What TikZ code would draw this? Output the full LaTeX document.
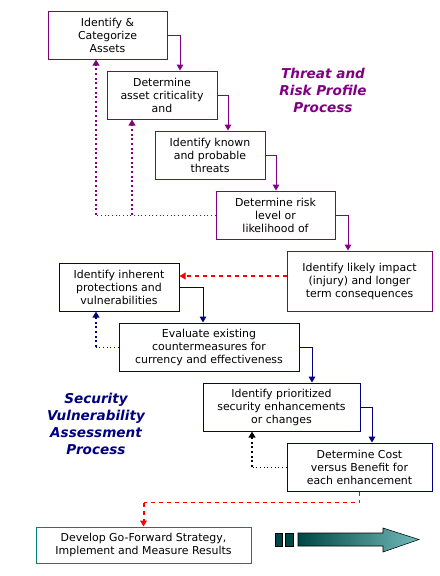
\documentclass[tikz,border=0pt]{standalone}
\usepackage{fontspec}
\setmainfont{DejaVu Sans}
\usetikzlibrary{arrows.meta,calc}

\begin{document}
\begin{tikzpicture}[
  x=0.75pt,
  y=-0.75pt,
  >={Triangle[width=5pt,length=4.5pt]},
  procbox/.style={draw=#1, line width=0.75pt, fill=white, align=center,
    inner sep=0pt, font=\fontsize{8.2}{9.75}\selectfont},
  link/.style={draw=#1, line width=0.75pt, ->},
  back/.style={draw=#1, line width=1.5pt, dotted, ->},
  title/.style={align=center, text=#1, font=\fontsize{10.2}{12.75}\selectfont\bfseries\itshape}
]
\definecolor{tpurple}{RGB}{128,0,128}
\definecolor{tnavy}{RGB}{0,0,128}
\definecolor{tred}{RGB}{255,0,0}
\definecolor{tteal}{RGB}{0,128,128}
\definecolor{tdark}{RGB}{0,72,72}

\useasboundingbox (0,0) rectangle (440,576);

% Threat and risk profile boxes (purple).
\node[procbox=tpurple, minimum width=89.25pt, minimum height=36pt] (b1) at (107.5,35)
  {Identify \&\\Categorize\\Assets};
\node[procbox=tpurple, minimum width=82.5pt, minimum height=36pt] (b2) at (162,95)
  {Determine\\asset criticality\\and};
\node[procbox=tpurple, minimum width=82.5pt, minimum height=36pt] (b3) at (210,155)
  {Identify known\\and probable\\threats};
\node[procbox=tpurple, minimum width=89.25pt, minimum height=36pt] (b4) at (275.5,215)
  {Determine risk\\level or\\likelihood of};
\node[procbox=tpurple, minimum width=108.75pt, minimum height=45pt] (b5) at (359.5,281)
  {Identify likely impact\\(injury) and longer\\term consequences};

% Security vulnerability assessment boxes (navy).
\node[procbox=tnavy, minimum width=90pt, minimum height=36pt] (b6) at (119,287)
  {Identify inherent\\protections and\\vulnerabilities};
\node[procbox=tnavy, minimum width=135pt, minimum height=36pt] (b7) at (209,347)
  {Evaluate existing\\countermeasures for\\currency and effectiveness};
\node[procbox=tnavy, minimum width=117.75pt, minimum height=36pt] (b8) at (281.5,407)
  {Identify prioritized\\security enhancements\\or changes};
\node[procbox=tnavy, minimum width=108.75pt, minimum height=36pt] (b9) at (359.5,467)
  {Determine Cost\\versus Benefit for\\each enhancement};

% Final step (teal).
\node[procbox=tteal, minimum width=161.25pt, minimum height=27pt] (b10) at (143.5,545)
  {Develop Go-Forward Strategy,\\Implement and Measure Results};

% Process titles.
\node[title=tpurple] (t1) at (323,90) {Threat and\\Risk Profile\\Process};
\node[title=tnavy] (t2) at (96,424) {Security\\Vulnerability\\Assessment\\Process};

% Forward steps.
\draw[link=tpurple] (b1.east) -| ($(b2.north)+(18,0)$);
\draw[link=tpurple] (b2.east) -| ($(b3.north)+(18,0)$);
\draw[link=tpurple] (b3.east) -| ($(b4.north)+(0.5,0)$);
\draw[link=tpurple] (b4.east) -| ($(b5.north)+(-11.5,0)$);
\draw[link=tnavy] (b6.east) -| ($(b7.north)+(-6,0)$);
\draw[link=tnavy] (b7.east) -| ($(b8.north)+(30.5,0)$);
\draw[link=tnavy] (b8.east) -| ($(b9.north)+(12.5,0)$);

% Hand-over from risk profile to vulnerability assessment.
\draw[tred, line width=1.5pt, dashed, ->] ($(b5.west)+(0,-5)$) -- ($(b6.east)+(0,-11)$);

% Feedback loops.
\coordinate (fa) at ($(b1.south)+(-11.5,0)$);
\coordinate (fb) at ($(b2.south)+(-30,0)$);
\draw[tpurple, line width=0.75pt, dotted] (b4.west) -- (fa |- b4.west);
\draw[back=tpurple] (fa |- b4.west) -- (fa);
\draw[back=tpurple] (fb |- b4.west) -- (fb);

\coordinate (fc) at ($(b6.south)+(-23,0)$);
\draw[tnavy, line width=0.75pt, dotted] (b7.west) -- (fc |- b7.west);
\draw[back=tnavy] (fc |- b7.west) -- (fc);

\coordinate (fd) at ($(b8.south)+(-29.5,0)$);
\draw[black, line width=0.75pt, dotted] (b9.west) -- (fd |- b9.west);
\draw[back=black] (fd |- b9.west) -- (fd);

% On to the strategy.
\coordinate (fe) at ($(b10.north)+(0,-24)$);
\draw[tred, line width=0.75pt, dashed] (b9.south) |- (fe);
\draw[tred, line width=1.5pt, dashed, ->] (fe) -- (b10.north);

% Go-forward arrow.
\draw[black, fill=tdark] (275,533) rectangle (282,546);
\draw[black, fill=tdark] (285,533) rectangle (293,546);
\draw[black, shading=axis, left color=tdark, right color=tteal!55!white]
  (298,533) -- (383,533) -- (383,528) -- (419,539.5) -- (383,552) -- (383,546)
  -- (298,546) -- cycle;
\end{tikzpicture}
\end{document}
